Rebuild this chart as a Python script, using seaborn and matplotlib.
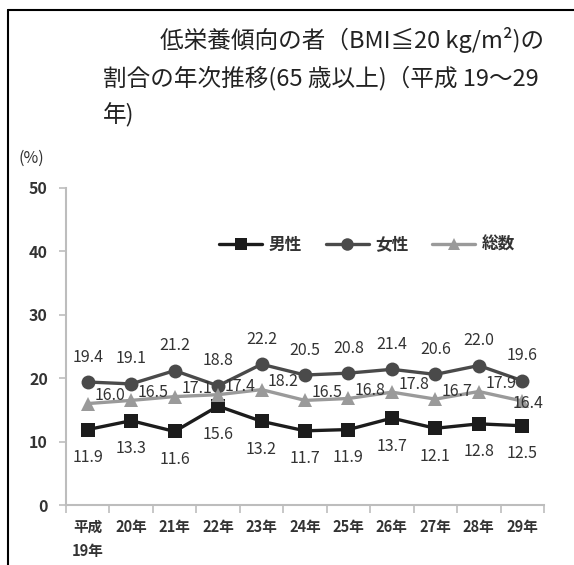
import matplotlib
matplotlib.use("Agg")
import matplotlib.pyplot as plt
from matplotlib.lines import Line2D
from matplotlib.ticker import FixedLocator, NullFormatter
import seaborn as sns
import pandas as pd
import numpy as np

# survey years (Heisei era) and share of people aged 65+ with BMI <= 20 (%)
years = ["平成\n19年", "20年", "21年", "22年", "23年", "24年",
         "25年", "26年", "27年", "28年", "29年"]
male = [11.9, 13.3, 11.6, 15.6, 13.2, 11.7, 11.9, 13.7, 12.1, 12.8, 12.5]
female = [19.4, 19.1, 21.2, 18.8, 22.2, 20.5, 20.8, 21.4, 20.6, 22.0, 19.6]
total = [16.0, 16.5, 17.1, 17.4, 18.2, 16.5, 16.8, 17.8, 16.7, 17.9, 16.4]
series_names = ["男性", "女性", "総数"]
y_ticks = [0, 10, 20, 30, 40, 50]

sns.set_theme(style="white")
FONT = ["Noto Sans CJK JP", "DejaVu Sans"]
plt.rcParams["font.family"] = FONT

DPI = 100
fig = plt.figure(figsize=(5.74, 5.65), dpi=DPI)
W, H = 574, 565
ax = fig.add_axes([66 / W, 1 - 505 / H, (544 - 66) / W, (505 - 188) / H])

x = np.arange(len(years))
df = pd.DataFrame({
    "x": np.concatenate([x, x, x]),
    "value": male + female + total,
    "series": np.repeat(series_names, len(years)),
})

colors = {"男性": "#1c1c1c", "女性": "#4a4a4a", "総数": "#9a9a9a"}
markers = {"男性": "s", "女性": "o", "総数": "^"}
sns.lineplot(data=df, x="x", y="value", hue="series", style="series",
             palette=colors, markers=markers, dashes=False, markersize=10,
             linewidth=2.4, markeredgewidth=0, ax=ax, legend=False)

# value labels
lab_kw = dict(fontsize=11.5, color="#333333", textcoords="offset pixels",
              va="center")
for i, v in enumerate(female):
    ax.annotate(f"{v:.1f}", (i, v), xytext=(0, 25), ha="center", **lab_kw)
for i, v in enumerate(male):
    ax.annotate(f"{v:.1f}", (i, v), xytext=(0, -28), ha="center", **lab_kw)
for i, v in enumerate(total):
    last = i == len(total) - 1
    ax.annotate(f"{v:.1f}", (i, v), xytext=(6 if last else 22, -2 if last else 8),
                ha="center", **lab_kw)

# axes styling
ax.set_xlim(-0.5, len(years) - 0.5)
ax.set_ylim(0, 50)
ax.set_yticks(y_ticks)
ax.set_yticklabels([str(t) for t in y_ticks], fontsize=11.5, fontweight="bold",
                   color="#333333")
ax.set_xticks(x)
ax.set_xticklabels(years, fontsize=10.5, fontweight="bold", color="#333333",
                   linespacing=1.6, va="top")
ax.xaxis.set_minor_locator(FixedLocator(np.arange(-0.5, len(years), 1.0)))
ax.xaxis.set_minor_formatter(NullFormatter())
ax.tick_params(axis="x", which="major", length=0, pad=10)
ax.tick_params(axis="x", which="minor", length=6, width=1.2, color="#bdbdbd",
               direction="out", bottom=True)
ax.tick_params(axis="y", length=5, width=1.2, color="#bdbdbd", direction="out",
               left=True, pad=8)
ax.set_xlabel("")
ax.set_ylabel("")
for side in ["top", "right"]:
    ax.spines[side].set_visible(False)
for side in ["left", "bottom"]:
    ax.spines[side].set_color("#bdbdbd")
    ax.spines[side].set_linewidth(1.5)
ax.grid(False)

# legend
handles = [Line2D([], [], color=colors[n], marker=markers[n], markersize=9,
                  linewidth=2.4, markeredgewidth=0) for n in series_names]
ax.legend(handles, series_names, loc="center", bbox_to_anchor=(0.63, 0.82),
          ncol=3, frameon=False, handlelength=2.6, handletextpad=0.4,
          columnspacing=1.4, prop={"family": FONT, "size": 12, "weight": "bold"},
          labelcolor="#333333")

# title and unit
title_kw = dict(fontsize=17, color="#222222", va="center", ha="left")
fig.text(160 / W, 1 - 40 / H, "低栄養傾向の者（BMI≦20 kg/m²)の", **title_kw)
fig.text(103 / W, 1 - 78 / H, "割合の年次推移(65 歳以上)（平成 19～29", **title_kw)
fig.text(103 / W, 1 - 115 / H, "年)", **title_kw)
fig.text(18 / W, 1 - 158 / H, "(%)", fontsize=11.5, color="#333333",
         va="center", ha="left")

# frame lines on top and left edges
fig.add_artist(Line2D([8 / W, 1], [1 - 10 / H, 1 - 10 / H], color="black",
                      linewidth=1.5, transform=fig.transFigure))
fig.add_artist(Line2D([8 / W, 8 / W], [0, 1 - 10 / H], color="black",
                      linewidth=1.5, transform=fig.transFigure))

fig.savefig("out.png", dpi=DPI, facecolor="white")
